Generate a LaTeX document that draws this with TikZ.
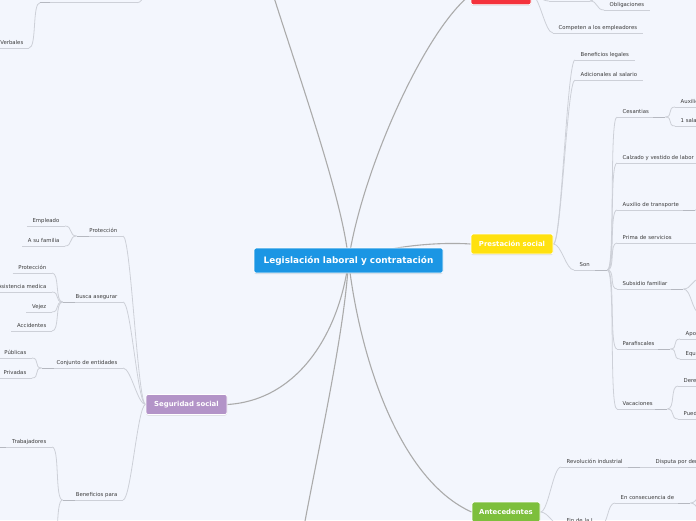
\documentclass[tikz,border=0pt]{standalone}
\usepackage{fontspec}
\setmainfont{DejaVu Sans}
\usetikzlibrary{shadows}
\definecolor{bgcol}{HTML}{F3F6FD}
\definecolor{rootcol}{HTML}{1B96E4}
\definecolor{prestcol}{HTML}{FFE10F}
\definecolor{segcol}{HTML}{B394C8}
\definecolor{antcol}{HTML}{7DBF3C}
\definecolor{topcol}{HTML}{F4323C}
\definecolor{maincol}{HTML}{ABABAB}
\definecolor{subcol}{HTML}{CDD0D8}
\definecolor{hubcol}{HTML}{B5B8C0}
\definecolor{txtcol}{HTML}{3A3A3A}
\pgfdeclarelayer{bg}
\pgfdeclarelayer{lines}
\pgfsetlayers{bg,lines,main}

\tikzset{
  topic/.style={rounded corners=2pt, draw=white, line width=.8pt, text=white,
    font=\fontsize{6.9}{8}\selectfont\bfseries, minimum height=20pt, inner sep=0pt,
    drop shadow={shadow xshift=0pt, shadow yshift=-1pt, opacity=.25}},
  mainline/.style={draw=maincol, line width=1.1pt},
  subline/.style={draw=subcol, line width=.8pt},
  hubline/.style={draw=hubcol, line width=.9pt},
  leaf/.style={font=\fontsize{5.35}{6}\selectfont, text=txtcol, inner xsep=5.5pt,
    inner ysep=1.8pt, text height=4pt, text depth=1.2pt,
    append after command={(\tikzlastnode.south west) edge[subline] (\tikzlastnode.south east)}},
  rleaf/.style={leaf, anchor=south west},
  lleaf/.style={leaf, anchor=south east, align=right},
  rhub/.style={append after command={([xshift=-12pt]\tikzlastnode.south east) edge[hubline] (\tikzlastnode.south east)}},
  lhub/.style={append after command={([xshift=12pt]\tikzlastnode.south west) edge[hubline] (\tikzlastnode.south west)}},
  rlink/.style={out=0, in=180, distance=8pt},
  llink/.style={out=180, in=0, distance=8pt},
}

\begin{document}
\begin{tikzpicture}[x=1pt, y=-1pt]
    \useasboundingbox (0,0) rectangle (696,520);
    \begin{pgfonlayer}{bg}
        \fill[bgcol] (0,0) rectangle (696,520);
    \end{pgfonlayer}

    % Main topics
    \node[topic, fill=rootcol, minimum width=189pt, minimum height=25pt,
        font=\fontsize{8.9}{10}\selectfont\bfseries] (root) at (348.5,260.5) {Legislación laboral y contratación};
    \node[topic, fill=prestcol, minimum width=82pt] (prest) at (512,244) {Prestación social};
    \node[topic, fill=segcol, minimum width=81pt] (segur) at (186.5,404.5) {Seguridad social};
    \node[topic, fill=antcol, minimum width=68pt] (antec) at (506,512) {Antecedentes};
    \node[topic, fill=topcol, minimum width=60pt] (deber) at (501,-5.3) {};

    % Prestación social
    \node[rleaf] (benef) at (575,60) {Beneficios legales};
    \node[rleaf] (adic) at (575,80) {Adicionales al salario};
    \node[rleaf, rhub, text width=22pt] (son) at (574,270) {Son};
    \node[rleaf, rhub, text width=37pt] (ces) at (617,117) {Cesantias};
    \node[rleaf] (calz) at (617,163) {Calzado y vestido de labor};
    \node[rleaf, rhub, text width=67pt] (auxt) at (617,210) {Auxilio de transporte};
    \node[rleaf, text width=75pt] (prima) at (617,243) {Prima de servicios};
    \node[rleaf, rhub, text width=55pt] (subs) at (617,289) {Subsidio familiar};
    \node[rleaf, rhub, text width=42pt] (paraf) at (617,349) {Parafiscales};
    \node[rleaf, rhub, text width=39pt] (vac) at (617,409) {Vacaciones};
    \node[rleaf] (auxc) at (675,107) {Auxilio de cesantías};
    \node[rleaf] (unsal) at (675,126) {1 salario por año};
    \node[rleaf] (apo) at (680,339) {Aportes};
    \node[rleaf] (equ) at (680,359) {Equivalen al 9\%};
    \node[rleaf] (dere) at (678,386) {Derecho a 15 días};
    \node[rleaf] (pued) at (678,419) {Pueden acumularse};

    % Antecedentes
    \node[rleaf, rhub, text width=68pt] (revol) at (561,467) {Revolución industrial};
    \node[rleaf] (disp) at (650,467) {Disputa por derechos};
    \node[rleaf, rhub, text width=28pt] (fin) at (561,525.5) {Fin de la I};
    \node[rleaf, rhub, text width=64pt] (encons) at (615,503) {En consecuencia de};

    % Seguridad social
    \node[lleaf, lhub, text width=35pt] (prot) at (123,236) {Protección};
    \node[lleaf] (empl) at (65,226) {Empleado};
    \node[lleaf] (fam) at (65,246) {A su familia};
    \node[lleaf, lhub, text width=49pt] (busca) at (123,302) {Busca asegurar};
    \node[lleaf] (prot2) at (52,273) {Protección};
    \node[lleaf] (asist) at (52,292) {Asistencia medica};
    \node[lleaf] (vejez) at (52,312) {Vejez};
    \node[lleaf] (accid) at (52,331) {Accidentes};
    \node[lleaf, lhub, text width=70pt] (conj) at (123,368) {Conjunto de entidades};
    \node[lleaf] (publ) at (32,358) {Públicas};
    \node[lleaf] (priv) at (32,378) {Privadas};
    \node[lleaf, lhub, text width=49pt] (benefp) at (123,500) {Beneficios para};
    \node[lleaf] (trab) at (52,447) {Trabajadores};

    % Top fragments
    \node[rleaf] (oblig) at (604,10) {Obligaciones};
    \node[rleaf] (compet) at (553,33) {Competen a los empleadores};
    \node[lleaf] (verb) at (29,48) {Verbales};

    % Off-page ends
    \coordinate (tlend) at (271,-12);
    \coordinate (botend) at (303,532);
    \coordinate (hidA1) at (549,1);
    \coordinate (hidA2) at (590,1);
    \coordinate (hidAup) at (600,-14);
    \coordinate (hidB1) at (40,2.7);
    \coordinate (hidB2) at (137,2.7);
    \coordinate (hidBup) at (150,-12);
    \coordinate (auxt1) at (708,199);
    \coordinate (auxt2) at (708,221);
    \coordinate (subs1) at (700,279);
    \coordinate (subs2) at (700,313);
    \coordinate (enc1) at (706,490);
    \coordinate (enc2) at (706,516);
    \coordinate (benefdown) at (52,556);
    \coordinate (trabout) at (-12,447);

    \begin{pgfonlayer}{lines}
        % Main branches
        \draw[mainline] (root.center) .. controls (343,200) and (300,80) .. (tlend);
        \draw[mainline] (root.center) .. controls (362,170) and (425,30) .. (deber.west);
        \draw[mainline] (root.center) .. controls (390,245) and (440,242) .. (prest.west);
        \draw[mainline] (root.center) .. controls (360,360) and (400,480) .. (antec.west);
        \draw[mainline] (root.center) .. controls (340,330) and (300,400) .. (segur.east);
        \draw[mainline] (root.center) .. controls (345,330) and (318,450) .. (botend);

        % Prestación social
        \foreach \n in {benef,adic,son}
            \draw[subline] (prest.east) to[rlink] (\n.south west);
        \foreach \n in {ces,calz,auxt,prima,subs,paraf,vac}
            \draw[subline] (son.south east) to[rlink] (\n.south west);
        \foreach \n in {auxc,unsal}
            \draw[subline] (ces.south east) to[rlink] (\n.south west);
        \foreach \n in {apo,equ}
            \draw[subline] (paraf.south east) to[rlink] (\n.south west);
        \foreach \n in {dere,pued}
            \draw[subline] (vac.south east) to[rlink] (\n.south west);
        \foreach \n in {auxt1,auxt2}
            \draw[subline] (auxt.south east) to[rlink] (\n);
        \foreach \n in {subs1,subs2}
            \draw[subline] (subs.south east) to[rlink] (\n);

        % Antecedentes
        \foreach \n in {revol,fin}
            \draw[subline] (antec.east) to[rlink] (\n.south west);
        \draw[subline] (revol.south east) -- (disp.south west);
        \draw[subline] (fin.south east) to[rlink] (encons.south west);
        \foreach \n in {enc1,enc2}
            \draw[subline] (encons.south east) to[rlink] (\n);

        % Seguridad social
        \foreach \n in {prot,busca,conj,benefp}
            \draw[subline] (segur.west) to[llink] (\n.south east);
        \foreach \n in {empl,fam}
            \draw[subline] (prot.south west) to[llink] (\n.south east);
        \foreach \n in {prot2,asist,vejez,accid}
            \draw[subline] (busca.south west) to[llink] (\n.south east);
        \foreach \n in {publ,priv}
            \draw[subline] (conj.south west) to[llink] (\n.south east);
        \draw[subline] (benefp.south west) to[llink] (trab.south east);
        \draw[subline] (benefp.south west) to[llink] (benefdown);
        \draw[hubline] (trab.south west) -- (trabout);

        % Top fragments
        \draw[subline] (deber.east) to[rlink] (hidA1);
        \draw[subline] (hidA1) -- (hidA2);
        \draw[subline] (hidA2) to[rlink] (oblig.south west);
        \draw[subline] (hidA2) to[rlink] (hidAup);
        \draw[subline] (deber.east) to[rlink] (compet.south west);
        \draw[subline] (hidB1) -- (hidB2);
        \draw[subline] (hidB2) to[rlink] (hidBup);
        \draw[hubline] (hidB1) -- ++(10,0);
        \draw[subline] (hidB1) to[llink] (verb.south east);
    \end{pgfonlayer}
\end{tikzpicture}
\end{document}
